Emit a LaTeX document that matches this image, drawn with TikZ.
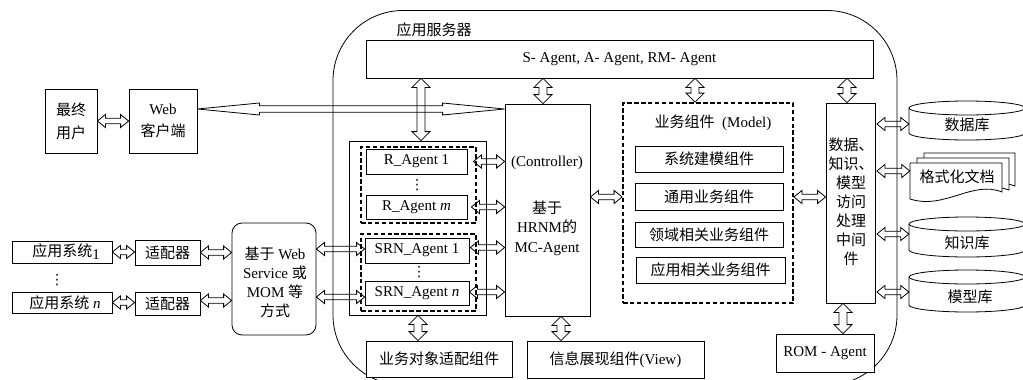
\documentclass[tikz,border=0pt]{standalone}
\usepackage{fontspec}
\setmainfont{Liberation Serif}
\newfontfamily\cjk{Noto Sans CJK SC}
\newfontfamily\dejavu{DejaVu Sans}
\usetikzlibrary{calc}
\tikzset{
  box/.style={draw, line width=0.8pt, fill=white, inner sep=0pt, align=center},
  dbox/.style={draw, line width=1.8pt, dash pattern=on 4.5pt off 2.4pt, inner sep=0pt},
  lbl/.style={inner sep=0pt, align=center},
  arr/.style={draw, line width=0.8pt, line join=miter},
  store/.style={draw, line width=0.8pt, fill=white},
  every node/.style={font=\fontsize{15}{19}\selectfont},
  cjkf/.style={font=\fontsize{15}{19}\selectfont\cjk},
  dotf/.style={inner sep=0pt, font=\fontsize{14}{14}\selectfont\dejavu}
}
\newcommand\HArrow[5]{\draw[arr] let \p1=#1, \p2=#2 in
  (\x1,\y1) -- (\x1+#3,\y1+#4) -- (\x1+#3,\y1+#5) -- (\x2-#3,\y1+#5) -- (\x2-#3,\y1+#4) -- (\x2,\y1)
  -- (\x2-#3,\y1-#4) -- (\x2-#3,\y1-#5) -- (\x1+#3,\y1-#5) -- (\x1+#3,\y1-#4) -- cycle;}
\newcommand\VArrow[5]{\draw[arr] let \p1=#1, \p2=#2 in
  (\x1,\y1) -- (\x1+#4,\y1-#3) -- (\x1+#5,\y1-#3) -- (\x1+#5,\y2+#3) -- (\x1+#4,\y2+#3) -- (\x1,\y2)
  -- (\x1-#4,\y2+#3) -- (\x1-#5,\y2+#3) -- (\x1-#5,\y1-#3) -- (\x1-#4,\y1-#3) -- cycle;}
\newcommand\HA[2]{\HArrow{#1}{#2}{8pt}{6.5pt}{2.7pt}}
\newcommand\VA[2]{\VArrow{#1}{#2}{9pt}{9pt}{4pt}}
\begin{document}
\begin{tikzpicture}[x=1pt,y=-1pt]
\useasboundingbox (0,0) rectangle (1023,380);
% application server container
\draw[line width=0.8pt, rounded corners=70pt] (333,10.5) rectangle (897,385);
\node[lbl, cjkf] (srv) at (434,30) {应用服务器};

% left: user and web client
\node[box, cjkf, minimum width=52pt, minimum height=64pt] (user) at (71,121) {最终\\[4pt]用户};
\node[box, minimum width=68pt, minimum height=64pt] (web) at (163,121) {Web\\[3pt]{\cjk 客户端}};

% top agent bar
\node[box, minimum width=507pt, minimum height=38pt] (sagent) at (619.5,59) {S- Agent, A- Agent, RM- Agent};

% agents container
\node[box, minimum width=137pt, minimum height=174pt] (cont) at (417.5,228) {};
\node[dbox, minimum width=115pt, minimum height=76pt] (rdash) at (418.5,185) {};
\node[box, minimum width=101pt, minimum height=25pt] (ra1) at (416.5,161.5) {R\_Agent 1};
\node[dotf] (rdots) at (417,185) {⋮};
\node[box, minimum width=101pt, minimum height=24pt] (ram) at (416.5,207) {R\_Agent \textit{m}};
\node[dbox, minimum width=115pt, minimum height=77pt] (sdash) at (418.5,272.5) {};
\node[box, minimum width=104pt, minimum height=25pt] (s1) at (417,250.5) {SRN\_Agent 1};
\node[dotf] (sdots) at (419,272) {⋮};
\node[box, minimum width=104pt, minimum height=24pt] (sn) at (417,293) {SRN\_Agent \textit{n}};

% MC-Agent
\node[box, minimum width=85pt, minimum height=212pt] (mc) at (547.5,210) {};
\node[lbl] (ctrl) at (547,163) {(Controller)};
\node[lbl, font=\fontsize{15}{19.5}\selectfont] (mctext) at (547,228) {{\cjk 基于}\\HRNM{\cjk 的}\\MC-Agent};

% business components
\node[dbox, minimum width=170pt, minimum height=200pt] (biz) at (708,203) {};
\node[lbl] (biztitle) at (713,123) {{\cjk 业务组件}\ \ (Model)};
\node[box, cjkf, minimum width=148pt, minimum height=26pt] (b1) at (709,159) {系统建模组件};
\node[box, cjkf, minimum width=148pt, minimum height=27pt] (b2) at (709,196.5) {通用业务组件};
\node[box, cjkf, minimum width=148pt, minimum height=25pt] (b3) at (709,234.5) {领域相关业务组件};
\node[box, cjkf, minimum width=149pt, minimum height=26pt] (b4) at (710.5,270) {应用相关业务组件};

% middleware
\node[box, minimum width=49pt, minimum height=200pt] (mid) at (850.5,203) {};
\node[lbl, cjkf] (midtext) at (851,202) {数据、\\知识、\\模型\\访问\\处理\\中间\\件};
\node[box, minimum width=98pt, minimum height=38pt] (rom) at (825,353) {ROM - Agent};

% bottom components
\node[box, cjkf, minimum width=146pt, minimum height=36pt] (boa) at (439,359) {业务对象适配组件};
\node[box, minimum width=177pt, minimum height=37pt] (view) at (615.5,359.5) {{\cjk 信息展现组件}(View)};

% left systems
\node[box, minimum width=100pt, minimum height=22pt] (sys1) at (62,252) {\hspace*{8pt}{\cjk 应用系统}\raisebox{-3pt}{1}};
\node[dotf] (sysdots) at (57,280) {⋮};
\node[box, minimum width=100pt, minimum height=21pt] (sysn) at (62,302.5) {\hspace*{6pt}{\cjk 应用系统} \textit{n}};
\node[box, cjkf, minimum width=65pt, minimum height=25pt] (ad1) at (167.5,252.5) {适配器};
\node[box, cjkf, minimum width=65pt, minimum height=23pt] (ad2) at (167.5,303.5) {适配器};
\node[box, minimum width=84pt, minimum height=112pt, rounded corners=10pt] (ws) at (274,279) {};
\node[lbl] (wstext) at (275,282) {{\cjk 基于} Web\\Service {\cjk 或}\\MOM {\cjk 等}\\{\cjk 方式}};

% storage
\draw[store] (909,108) -- (909,133) arc[start angle=180,end angle=360,x radius=58pt,y radius=7pt]
  -- (1025,108) arc[start angle=0,end angle=180,x radius=58pt,y radius=7pt] -- cycle;
\draw[line width=0.8pt] (909,108) arc[start angle=180,end angle=360,x radius=58pt,y radius=7pt];
\node[lbl, cjkf, minimum width=116pt] (db) at (967,125) {数据库};

\draw[store] (924,153) -- (1015,153) -- (1015,186) .. controls (990,176) and (960,198) .. (924,190) -- cycle;
\draw[store] (917,158) -- (1009,158) -- (1009,190) .. controls (982,180) and (955,203) .. (917,195) -- cycle;
\draw[store] (910,163) -- (1002,163) -- (1002,192) .. controls (972,180) and (945,210) .. (910,199) -- cycle;
\node[lbl, cjkf, minimum width=94pt] (doc) at (957,177) {格式化文档};

\draw[store] (909,224) -- (909,250) arc[start angle=180,end angle=360,x radius=58pt,y radius=7pt]
  -- (1025,224) arc[start angle=0,end angle=180,x radius=58pt,y radius=7pt] -- cycle;
\draw[line width=0.8pt] (909,224) arc[start angle=180,end angle=360,x radius=58pt,y radius=7pt];
\node[lbl, cjkf, minimum width=116pt] (kb) at (967,243) {知识库};

\draw[store] (909,277) -- (909,305) arc[start angle=180,end angle=360,x radius=58pt,y radius=7pt]
  -- (1025,277) arc[start angle=0,end angle=180,x radius=58pt,y radius=7pt] -- cycle;
\draw[line width=0.8pt] (909,277) arc[start angle=180,end angle=360,x radius=58pt,y radius=7pt];
\node[lbl, cjkf, minimum width=122pt] (mb) at (970,297) {模型库};

% connectors
\HA{(user.east)}{(web.west)}
\HArrow{([yshift=12pt]web.east)}{(mc.west)}{62pt}{6pt}{3.3pt}
\VA{($(sagent.south -| cont.north)+(3.5,0)$)}{(cont.north)}
\VA{($(sagent.south -| mc.north)+(-4.5,0)$)}{(mc.north)}
\VA{($(sagent.south -| biz.north)+(-13,0)$)}{(biz.north)}
\VA{($(sagent.south -| mid.north)+(-3.5,0)$)}{(mid.north)}
\HA{($(ra1.east)+(6,0)$)}{(mc.west)}
\HA{($(ram.east)+(4,0)$)}{(mc.west)}
\HA{($(s1.east)+(1,-3)$)}{(mc.west)}
\HA{($(sn.east)+(0,-1)$)}{(mc.west)}
\HA{($(mc.east)+(0,-13)$)}{(biz.west)}
\HA{($(biz.east)+(0,-6)$)}{(mid.west)}
\HA{($(mid.east|-db.west)+(1.5,-1)$)}{(db.west)}
\HA{($(mid.east|-doc.west)+(1.5,-6)$)}{(doc.west)}
\HA{($(mid.east|-kb.west)+(1.5,-9)$)}{(kb.west)}
\HA{($(mid.east|-mb.west)+(1.5,-5)$)}{(mb.west)}
\VA{($(mid.south)+(-7.5,0)$)}{(rom.north)}
\VA{($(cont.south)+(0.5,0)$)}{(boa.north)}
\VA{($(mc.south)+(13.5,0)$)}{(view.north)}
\HA{(sys1.east)}{(ad1.west)}
\HA{(sysn.east)}{(ad2.west)}
\HA{(ad1.east)}{(ws.west)}
\HA{($(ad2.east)+(0,-3)$)}{(ws.west)}
\HA{($(ws.east|-s1.west)+(0,-1.5)$)}{(s1.west)}
\HA{($(ws.east|-sn.west)+(0,4)$)}{(sn.west)}
\end{tikzpicture}
\end{document}
